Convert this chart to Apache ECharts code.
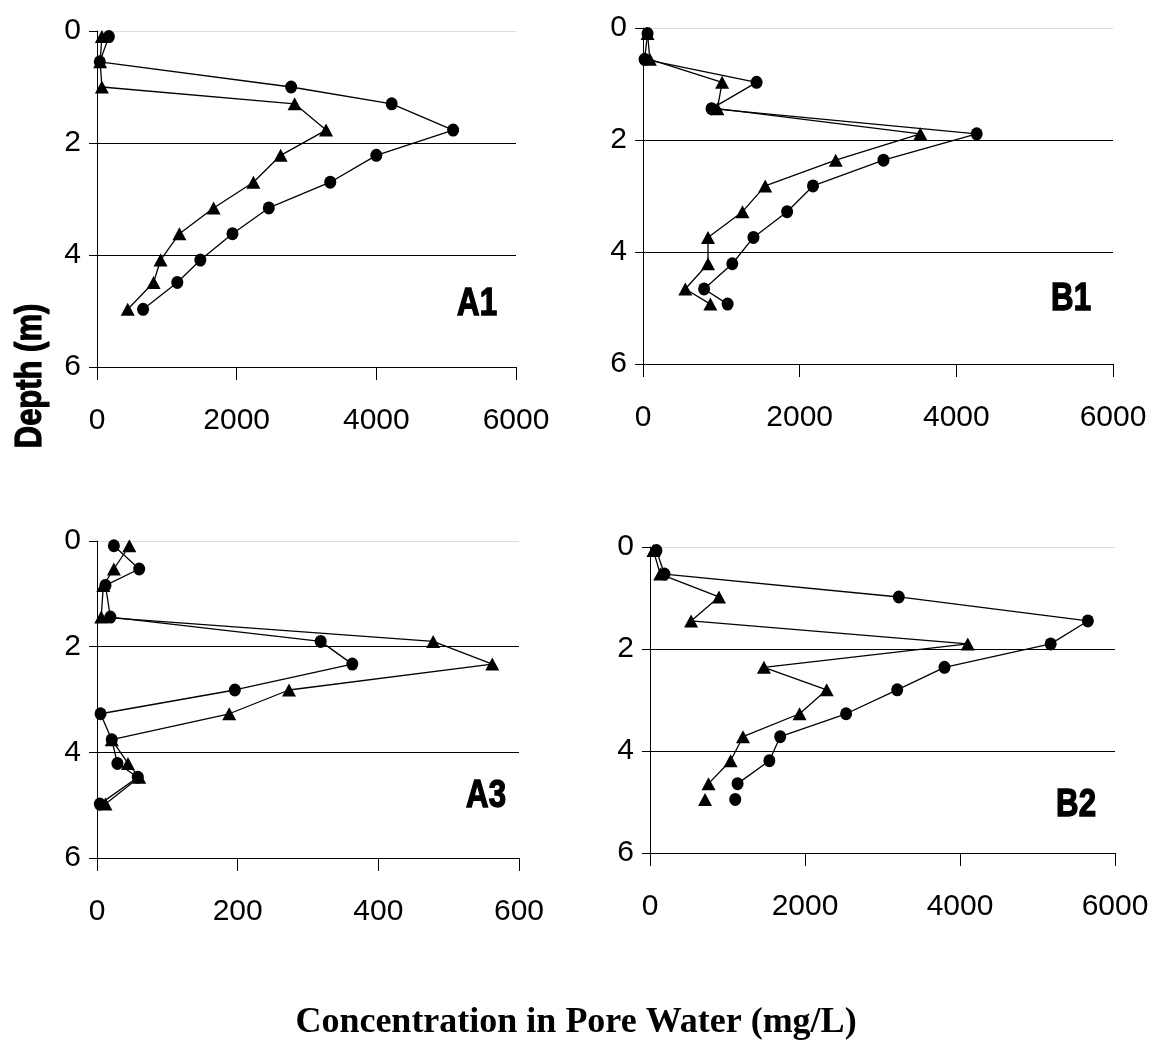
<!DOCTYPE html>
<html>
<head>
<meta charset="utf-8">
<title>Concentration in Pore Water</title>
<script src="https://cdn.jsdelivr.net/npm/echarts@6/dist/echarts.min.js"></script>
<style>
  html, body { margin: 0; padding: 0; background: #fff; }
  #chart { width: 1153px; height: 1064px; }
</style>
</head>
<body>
<div id="chart"></div>
<script>
// sample depths (m), one list per core
const depthA1 = [0.1, 0.55, 1.0, 1.3, 1.77, 2.22, 2.7, 3.16, 3.62, 4.09, 4.49, 4.97]
const depthB1 = [0.1, 0.56, 0.97, 1.44, 1.89, 2.36, 2.82, 3.28, 3.74, 4.21, 4.66, 4.93]
const depthA3 = [0.09, 0.53, 0.84, 1.44, 1.9, 2.33, 2.82, 3.27, 3.76, 4.21, 4.47, 4.98]
const depthB2 = [0.07, 0.53, 0.98, 1.45, 1.9, 2.36, 2.8, 3.27, 3.72, 4.19, 4.64, 4.95]

// concentrations (mg/L): circle series / triangle series
const circA1 = [170, 40, 2780, 4220, 5100, 4000, 3340, 2460, 1940, 1480, 1150, 660]
const triA1 = [70, 45, 70, 2830, 3280, 2630, 2240, 1670, 1180, 910, 810, 440]
const circB1 = [58, 20, 1450, 875, 4260, 3070, 2170, 1840, 1410, 1140, 780, 1080]
const triB1 = [58, 87, 1010, 950, 3540, 2460, 1560, 1270, 830, 830, 540, 860]
const circA3 = [24, 60, 12, 19, 318, 363, 196, 5, 21, 29, 58, 4]
const triA3 = [46, 24, 9, 6, 478, 562, 273, 188, 21, 44, 60, 12]
const circB2 = [83, 186, 3210, 5650, 5170, 3800, 3190, 2530, 1680, 1540, 1130, 1100]
const triB2 = [44, 132, 890, 530, 4100, 1470, 2280, 1930, 1200, 1040, 755, 710]

// B2: the last sample is not joined to the one above it
const gapB2 = 11

// tick labels
const depthTicks = [0, 2, 4, 6]
const concTicks = [0, 2000, 4000, 6000]
const concTicksA3 = [0, 200, 400, 600]

const panelNames = ['A1', 'B1', 'A3', 'B2']

// grid boxes [left, top, width, height]
const boxes = [
  [97, 31, 419, 336],
  [643, 28, 470, 336],
  [97, 541, 422, 317],
  [650, 547, 465, 306],
]

const tickFont = 'Liberation Sans, Arial, sans-serif'

// build [x, y] pairs, breaking the line before index gapAt
function pairs(depths, values, gapAt) {
  const out = []
  depths.forEach((d, i) => {
    if (i === gapAt) out.push(['-', '-'])
    out.push([values[i], d])
  })
  return out
}

function lineSeries(idx, data, symbol, size) {
  return {
    type: 'line',
    xAxisIndex: idx,
    yAxisIndex: idx,
    data: data,
    symbol: symbol,
    symbolSize: size,
    connectNulls: false,
    lineStyle: { color: '#000', width: 1.3 },
    itemStyle: { color: '#000' },
    z: 3,
  }
}

const panels = [
  { ticks: concTicks, circ: pairs(depthA1, circA1), tri: pairs(depthA1, triA1) },
  { ticks: concTicks, circ: pairs(depthB1, circB1), tri: pairs(depthB1, triB1) },
  { ticks: concTicksA3, circ: pairs(depthA3, circA3), tri: pairs(depthA3, triA3) },
  { ticks: concTicks, circ: pairs(depthB2, circB2, gapB2), tri: pairs(depthB2, triB2, gapB2) },
]

const grid = boxes.map(b => ({ left: b[0], top: b[1], width: b[2], height: b[3], containLabel: false }))

const xAxis = panels.map((p, i) => ({
  type: 'value',
  gridIndex: i,
  min: p.ticks[0],
  max: p.ticks[p.ticks.length - 1],
  interval: p.ticks[1] - p.ticks[0],
  axisLine: { show: true, onZero: false, lineStyle: { color: '#000', width: 1 } },
  axisTick: { show: true, inside: false, length: 13, lineStyle: { color: '#000' } },
  axisLabel: { color: '#000', fontSize: 30, fontFamily: tickFont, margin: 39, formatter: v => String(v) },
  splitLine: { show: false },
}))

const yAxis = panels.map((p, i) => ({
  type: 'value',
  gridIndex: i,
  inverse: true,
  min: depthTicks[0],
  max: depthTicks[depthTicks.length - 1],
  interval: depthTicks[1] - depthTicks[0],
  axisLine: { show: true, onZero: false, lineStyle: { color: '#000', width: 1 } },
  axisTick: { show: true, inside: false, length: 8, lineStyle: { color: '#000' } },
  axisLabel: { color: '#000', fontSize: 30, fontFamily: tickFont, margin: 16, formatter: v => String(v) },
  splitLine: { show: true, lineStyle: { color: ['#dcdcdc', '#000', '#000', '#000'], width: 1 } },
}))

const series = []
panels.forEach((p, i) => {
  series.push(lineSeries(i, p.circ, 'circle', [12, 13]))
  series.push(lineSeries(i, p.tri, 'triangle', [14, 13]))
})

// panel tags sit in the lower right of each plot
const tagPos = [[497, 304], [1091, 299], [506, 796], [1096, 805]]
const graphic = panelNames.map((name, i) => ({
  type: 'text',
  x: tagPos[i][0],
  y: tagPos[i][1],
  scaleX: 0.8,
  style: {
    text: name,
    fill: '#000',
    stroke: '#000',
    lineWidth: 1.5,
    font: 'bold 39px "Liberation Sans", Arial, sans-serif',
    textAlign: 'right',
    textVerticalAlign: 'middle',
  },
}))

graphic.push({
  type: 'text',
  x: 31,
  y: 376,
  rotation: Math.PI / 2,
  scaleX: 0.86,
  style: {
    text: 'Depth (m)',
    fill: '#000',
    stroke: '#000',
    lineWidth: 1.2,
    font: 'bold 36px "Liberation Sans", Arial, sans-serif',
    textAlign: 'center',
    textVerticalAlign: 'middle',
  },
})

graphic.push({
  type: 'text',
  x: 576,
  y: 1023,
  style: {
    text: 'Concentration in Pore Water (mg/L)',
    fill: '#000',
    font: 'bold 36px "Liberation Serif", "Times New Roman", serif',
    textAlign: 'center',
    textVerticalAlign: 'middle',
  },
})

const chart = echarts.init(document.getElementById('chart'))
chart.setOption({
  animation: false,
  backgroundColor: '#fff',
  grid: grid,
  xAxis: xAxis,
  yAxis: yAxis,
  series: series,
  graphic: graphic,
})
window.addEventListener('resize', () => chart.resize())
</script>
</body>
</html>
